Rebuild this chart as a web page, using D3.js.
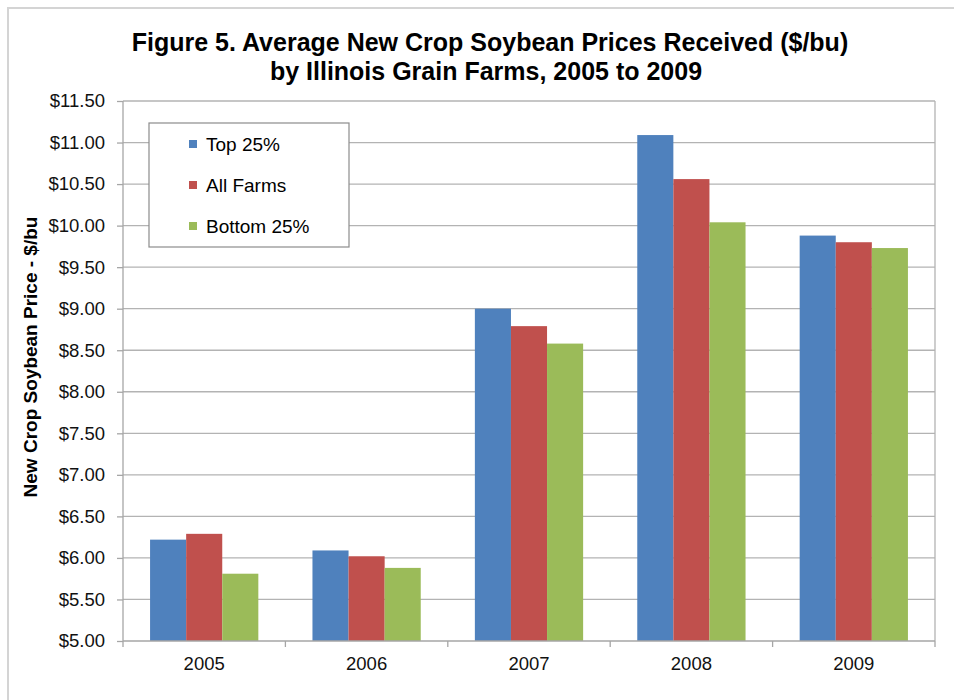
<!DOCTYPE html>
<html>
<head>
<meta charset="utf-8">
<script src="https://cdn.jsdelivr.net/npm/d3@7"></script>
<style>
    body { margin: 0; background: #fff; font-family: Arial, "Liberation Sans", sans-serif; }
    .grid line { stroke: #b3b3b3; stroke-width: 1.3; }
    .axis path, .axis line { stroke: #a6a6a6; stroke-width: 1.3; }
    .axis text { fill: #111; font-size: 18.5px; font-family: Arial, "Liberation Sans", sans-serif; }
</style>
</head>
<body>
<div id="chart"></div>
<script>
// Data
const years = ['2005', '2006', '2007', '2008', '2009'];
const seriesNames = ['Top 25%', 'All Farms', 'Bottom 25%'];
const top25 = [6.22, 6.09, 9.00, 11.09, 9.88];
const allFarms = [6.29, 6.02, 8.79, 10.56, 9.80];
const bottom25 = [5.81, 5.88, 8.58, 10.04, 9.73];
const yTicks = [5.00, 5.50, 6.00, 6.50, 7.00, 7.50, 8.00, 8.50, 9.00, 9.50, 10.00, 10.50, 11.00, 11.50];

const colors = ['#4f81bd', '#c0504d', '#9bbb59'];
const seriesValues = [top25, allFarms, bottom25];

// Layout
const W = 954, H = 700;
const margin = {top: 101, right: 19, bottom: 59, left: 123};
const width = W - margin.left - margin.right;
const height = H - margin.top - margin.bottom;

const svg = d3.select('#chart')
    .append('svg')
    .attr('width', W)
    .attr('height', H);

// Outer frame (runs off the right/bottom edge)
svg.append('rect')
    .attr('x', 8).attr('y', 8)
    .attr('width', W + 20).attr('height', H + 20)
    .attr('fill', 'none')
    .attr('stroke', '#d4d4d4')
    .attr('stroke-width', 2);

// Title
svg.append('text')
    .attr('x', 490).attr('y', 51)
    .attr('text-anchor', 'middle')
    .style('font-size', '25px').style('font-weight', 'bold')
    .text('Figure 5. Average New Crop Soybean Prices Received ($/bu)');
svg.append('text')
    .attr('x', 486).attr('y', 80)
    .attr('text-anchor', 'middle')
    .style('font-size', '25px').style('font-weight', 'bold')
    .text('by Illinois Grain Farms, 2005 to 2009');

const g = svg.append('g')
    .attr('transform', `translate(${margin.left},${margin.top})`);

// Scales
const x0 = d3.scaleBand().domain(years).range([0, width]).paddingInner(0).paddingOuter(0);
const x1 = d3.scaleBand().domain(seriesNames).range([0, x0.bandwidth()]).paddingInner(0).paddingOuter(0.75);
const y = d3.scaleLinear().domain([5, 11.5]).range([height, 0]);

// Gridlines
g.append('g')
    .attr('class', 'grid')
    .selectAll('line')
    .data(yTicks.slice(1))
    .enter().append('line')
    .attr('x1', 0).attr('x2', width)
    .attr('y1', d => y(d)).attr('y2', d => y(d));

// Right border of plot
g.append('line')
    .attr('x1', width).attr('x2', width)
    .attr('y1', 0).attr('y2', height)
    .attr('stroke', '#b3b3b3').attr('stroke-width', 1.3);

// Bars
const groups = g.selectAll('.year')
    .data(years)
    .enter().append('g')
    .attr('class', 'year')
    .attr('transform', d => `translate(${x0(d)},0)`);

groups.selectAll('rect')
    .data((d, i) => seriesNames.map((s, j) => ({series: s, value: seriesValues[j][i], idx: j})))
    .enter().append('rect')
    .attr('x', d => x1(d.series))
    .attr('width', x1.bandwidth())
    .attr('y', d => y(d.value))
    .attr('height', d => height - y(d.value))
    .attr('fill', d => colors[d.idx]);

// Y axis
g.append('g')
    .attr('class', 'axis')
    .call(d3.axisLeft(y).tickValues(yTicks).tickSize(6).tickPadding(12).tickFormat(d => '$' + d3.format('.2f')(d)))
    .call(a => a.select('.domain').attr('d', `M0,0V${height}`));

// X axis with ticks between categories
const xAxis = g.append('g')
    .attr('class', 'axis')
    .attr('transform', `translate(0,${height})`);
xAxis.append('line')
    .attr('x1', 0).attr('x2', width);
xAxis.selectAll('.sep')
    .data(d3.range(years.length + 1))
    .enter().append('line')
    .attr('x1', i => i * x0.bandwidth()).attr('x2', i => i * x0.bandwidth())
    .attr('y1', 0).attr('y2', 6);
xAxis.selectAll('text')
    .data(years)
    .enter().append('text')
    .attr('x', d => x0(d) + x0.bandwidth() / 2)
    .attr('y', 29)
    .attr('text-anchor', 'middle')
    .text(d => d);

// Y axis title
svg.append('text')
    .attr('transform', `translate(37,357) rotate(-90)`)
    .attr('text-anchor', 'middle')
    .style('font-size', '19px').style('font-weight', 'bold')
    .text('New Crop Soybean Price - $/bu');

// Legend
const legend = svg.append('g').attr('transform', 'translate(149,123)');
legend.append('rect')
    .attr('width', 200).attr('height', 124)
    .attr('fill', '#fff')
    .attr('stroke', '#8c8c8c').attr('stroke-width', 1.2);

const items = legend.selectAll('.item')
    .data(seriesNames)
    .enter().append('g')
    .attr('transform', (d, i) => `translate(40,${21 + i * 41})`);
items.append('rect')
    .attr('x', 0).attr('y', -4)
    .attr('width', 8).attr('height', 8)
    .attr('fill', (d, i) => colors[i]);
items.append('text')
    .attr('x', 17).attr('y', 7)
    .style('font-size', '19px')
    .text(d => d);
</script>
</body>
</html>
